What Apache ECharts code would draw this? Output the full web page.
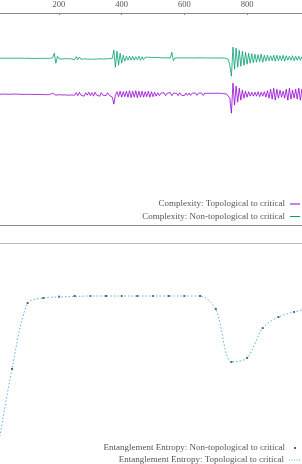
<!DOCTYPE html>
<html><head><meta charset="utf-8">
<script src="https://cdn.jsdelivr.net/npm/echarts@6/dist/echarts.min.js"></script>
<style>html,body{margin:0;padding:0;background:#fff}#c{width:302px;height:464px}</style>
</head><body><div id="c"></div>
<script>
// Complexity signals, sampled every 5 steps from 0 to 1000
const complexityStep = 5;
const complexityTopo = [
1.31,1.311,1.309,1.31,1.311,1.309,1.31,1.311,1.309,1.31,
1.311,1.309,1.311,1.309,1.31,1.312,1.308,1.311,1.309,1.312,
1.308,1.311,1.309,1.312,1.307,1.312,1.308,1.311,1.307,1.313,
1.306,1.313,1.305,1.314,1.306,1.315,1.32,1.34,1.30,1.315,
1.305,1.317,1.302,1.318,1.303,1.316,1.30,1.32,1.302,1.317,
1.30,1.325,1.295,1.33,1.30,1.32,1.29,1.325,1.30,1.33,
1.295,1.325,1.29,1.33,1.30,1.32,1.29,1.325,1.30,1.32,
1.295,1.325,1.30,1.315,1.28,1.21,1.30,1.335,1.285,1.34,
1.28,1.335,1.285,1.34,1.28,1.345,1.275,1.34,1.28,1.345,
1.275,1.34,1.28,1.34,1.28,1.335,1.285,1.34,1.28,1.335,
1.285,1.33,1.29,1.325,1.295,1.32,1.30,1.325,1.295,1.32,
1.30,1.325,1.295,1.32,1.30,1.32,1.295,1.325,1.30,1.32,
1.295,1.322,1.298,1.322,1.298,1.32,1.30,1.322,1.298,1.32,
1.30,1.322,1.298,1.32,1.30,1.318,1.30,1.32,1.30,1.318,
1.30,1.32,1.30,1.318,1.302,1.316,1.30,1.31,1.30,1.27,
1.12,1.42,1.20,1.39,1.23,1.37,1.25,1.35,1.27,1.34,
1.28,1.335,1.29,1.33,1.29,1.33,1.29,1.335,1.285,1.33,
1.29,1.335,1.28,1.345,1.27,1.36,1.26,1.37,1.25,1.36,
1.27,1.35,1.28,1.34,1.27,1.36,1.25,1.37,1.26,1.35,
1.27,1.36,1.26,1.37,1.25,1.36,1.27,1.35,1.28,1.34,
1.29];
const complexityNonTopo = [
1.67,1.67,1.671,1.669,1.67,1.671,1.67,1.669,1.67,1.671,
1.67,1.669,1.67,1.671,1.67,1.669,1.671,1.67,1.669,1.671,
1.67,1.672,1.668,1.675,1.666,1.671,1.669,1.671,1.668,1.672,
1.669,1.671,1.668,1.672,1.669,1.671,1.675,1.72,1.62,1.69,
1.665,1.675,1.662,1.672,1.666,1.674,1.665,1.673,1.663,1.676,
1.655,1.685,1.655,1.682,1.66,1.675,1.663,1.676,1.662,1.674,
1.66,1.68,1.66,1.676,1.662,1.675,1.664,1.676,1.662,1.674,
1.664,1.675,1.665,1.672,1.668,1.75,1.58,1.74,1.60,1.72,
1.62,1.70,1.64,1.69,1.65,1.69,1.65,1.69,1.65,1.685,
1.655,1.69,1.65,1.685,1.655,1.68,1.66,1.68,1.66,1.678,
1.662,1.676,1.664,1.678,1.662,1.675,1.664,1.674,1.666,1.674,
1.665,1.672,1.73,1.645,1.672,1.666,1.674,1.665,1.673,1.667,
1.674,1.665,1.673,1.666,1.674,1.666,1.672,1.667,1.673,1.666,
1.674,1.665,1.673,1.666,1.672,1.668,1.673,1.666,1.672,1.667,
1.673,1.666,1.672,1.667,1.673,1.666,1.671,1.668,1.66,1.60,
1.49,1.78,1.56,1.77,1.58,1.75,1.59,1.74,1.60,1.73,
1.61,1.72,1.62,1.715,1.625,1.71,1.63,1.705,1.635,1.71,
1.63,1.70,1.64,1.70,1.645,1.695,1.645,1.70,1.64,1.70,
1.645,1.695,1.645,1.70,1.64,1.695,1.65,1.69,1.65,1.695,
1.645,1.69,1.65,1.69,1.65,1.685,1.655,1.69,1.65,1.69,
1.66];

// Entanglement entropy, sampled every 50 steps
const entropyX = [0,50,100,150,200,250,300,350,400,450,500,550,600,650,700,750,800,850,900,950,1000];
const entropyTopo = [0.07,0.95,1.61,1.66,1.67,1.675,1.68,1.68,1.68,1.68,1.68,1.68,1.68,1.68,1.55,1.02,1.06,1.36,1.47,1.52,1.56];
const entropyNonTopo = [0.07,0.95,1.61,1.66,1.673,1.68,1.68,1.68,1.68,1.68,1.68,1.68,1.68,1.68,1.55,1.02,1.06,1.36,1.47,1.52,1.56];

// visible part of the step axis and its tick labels
const xVisibleMin = 11.8, xVisibleMax = 975.2;
const xTickValues = [200, 400, 600, 800];

const N1 = 'Complexity: Topological to critical';
const N2 = 'Complexity: Non-topological to critical';
const N3 = 'Entanglement Entropy: Non-topological to critical';
const N4 = 'Entanglement Entropy: Topological to critical';

const C1 = '#9400D3', C2 = '#009E73', C3 = '#333', C4 = '#56B4E9';

const pairs = (xs, ys) => ys.map((v, i) => [xs[i], v]);
const cx = complexityTopo.map((_, i) => i * complexityStep);

const font = 'Liberation Serif';
const txt = {fontSize: 9, fontFamily: font, color: '#555'};
const dottedIcon = 'path://M0,0h1v1h-1z M2.5,0h1v1h-1z M5,0h1v1h-1z M7.5,0h1v1h-1z M10,0h1v1h-1z';
const plainAxis = (grid, pos, color) => ({
  gridIndex: grid, type: 'value', position: pos, min: xVisibleMin, max: xVisibleMax,
  axisLine: {onZero: false, lineStyle: {color: color, width: 1}},
  axisTick: {show: false}, axisLabel: {show: false}, splitLine: {show: false}
});

const chart = echarts.init(document.getElementById('c'), null, {renderer: 'canvas'});
chart.setOption({
  animation: false,
  backgroundColor: '#fff',
  grid: [
    {left: 0, right: 0, top: 12.7, height: 212.3},
    {left: 0, right: 0, top: 243, height: 221}
  ],
  xAxis: [
    {gridIndex: 0, type: 'value', position: 'top', min: xVisibleMin, max: xVisibleMax,
     axisLine: {onZero: false, lineStyle: {color: '#888', width: 1}},
     axisTick: {inside: true, length: 2, lineStyle: {color: '#888'}, customValues: xTickValues},
     axisLabel: {fontSize: 8.5, fontFamily: font, color: '#555', margin: 4, customValues: xTickValues},
     splitLine: {show: false}},
    plainAxis(0, 'bottom', '#888'),
    plainAxis(1, 'top', '#bbb')
  ],
  yAxis: [
    {gridIndex: 0, type: 'value', min: 0, max: 2.123, show: false},
    {gridIndex: 1, type: 'value', min: 0, max: 2.21, show: false}
  ],
  legend: [
    {data: [{name: N1, icon: 'rect', itemStyle: {color: C1}}, {name: N2, icon: 'rect', itemStyle: {color: C2}}],
     orient: 'vertical', right: 2, top: 199.5, align: 'right', padding: 0,
     itemWidth: 10, itemHeight: 1, itemGap: 3.5, selectedMode: false, textStyle: txt},
    {data: [{name: N3, icon: 'rect', itemStyle: {color: C3}}], orient: 'vertical', right: 6, top: 443.5, align: 'right', padding: 0,
     itemWidth: 2, itemHeight: 2, selectedMode: false,
     textStyle: Object.assign({}, txt, {padding: [0, 4, 0, 0]})},
    {data: [{name: N4, icon: dottedIcon, itemStyle: {color: C4}}], orient: 'vertical', right: 2, top: 455.5, align: 'right', padding: 0,
     itemWidth: 11, itemHeight: 1, selectedMode: false, textStyle: txt}
  ],
  series: [
    {name: N1, type: 'line', xAxisIndex: 0, yAxisIndex: 0, data: pairs(cx, complexityTopo),
     symbol: 'none', showSymbol: false, color: C1, lineStyle: {width: 0.8, color: C1}},
    {name: N2, type: 'line', xAxisIndex: 0, yAxisIndex: 0, data: pairs(cx, complexityNonTopo),
     symbol: 'none', showSymbol: false, color: C2, lineStyle: {width: 0.8, color: C2}},
    {name: N4, type: 'line', xAxisIndex: 2, yAxisIndex: 1, data: pairs(entropyX, entropyTopo),
     symbol: 'none', showSymbol: false, smooth: 0.3, color: C4,
     lineStyle: {width: 1, color: C4, type: [1.5, 2]}},
    {name: N3, type: 'scatter', xAxisIndex: 2, yAxisIndex: 1, data: pairs(entropyX, entropyNonTopo),
     symbol: 'rect', symbolSize: 2, color: C3, itemStyle: {color: C3}}
  ]
});
</script></body></html>
